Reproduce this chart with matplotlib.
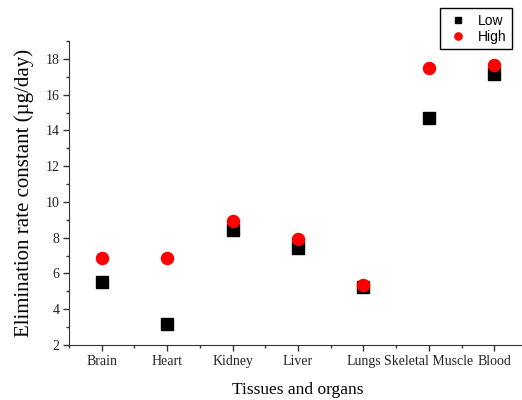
import matplotlib.pyplot as plt
from matplotlib.ticker import MultipleLocator

# Tejidos y valores de la constante de eliminación
tissues = ['Brain', 'Heart', 'Kidney', 'Liver', 'Lungs', 'Skeletal Muscle', 'Blood']
low = [5.54, 3.17, 8.43, 7.43, 5.25, 14.72, 17.16]
high = [6.85, 6.85, 8.95, 7.93, 5.34, 17.48, 17.63]

x = list(range(1, len(tissues) + 1))

fig = plt.figure(figsize=(5.22, 4.0), dpi=100)
ax = fig.add_axes([69 / 522, 55 / 400, 458 / 522, 304 / 400])

ax.plot(x, low, 's', color='black', markersize=8, label='Low', zorder=3)
ax.plot(x, high, 'o', color='red', markersize=8.7, label='High', zorder=4)

ax.set_xlim(0.5, 7.5)
ax.set_ylim(2, 19)
ax.set_xticks(x)
ax.set_xticklabels(tissues, family='Liberation Serif', fontsize=10)
ax.xaxis.set_minor_locator(MultipleLocator(0.5))
ax.yaxis.set_major_locator(MultipleLocator(2))
ax.yaxis.set_minor_locator(MultipleLocator(1))
for lbl in ax.get_yticklabels():
    lbl.set_family('Liberation Serif')
    lbl.set_fontsize(10)

ax.tick_params(which='major', direction='out', length=4, width=1, color='#333333')
ax.tick_params(which='minor', direction='out', length=2.5, width=1, color='#333333')
ax.tick_params(axis='both', pad=3, labelcolor='#222222')

ax.spines['top'].set_visible(False)
ax.spines['right'].set_visible(False)
ax.spines['left'].set_color('#333333')
ax.spines['bottom'].set_color('#333333')

ax.set_xlabel('Tissues and organs', family='Liberation Serif', fontsize=12.5, labelpad=10)
ax.set_ylabel('Elimination rate constant (\u00b5g/day)', family='Liberation Serif', fontsize=15, labelpad=8)

leg = ax.legend(loc='upper right', bbox_to_anchor=(512 / 522, 1 - 8 / 400),
                bbox_transform=fig.transFigure, borderaxespad=0,
                prop={'family': 'Liberation Sans', 'size': 10},
                fancybox=False, edgecolor='black', framealpha=1, handletextpad=0.45,
                borderpad=0.4, labelspacing=0.15, handlelength=1.9, markerscale=0.6)
leg.get_frame().set_linewidth(1)

fig.savefig('out.png', dpi=100)
